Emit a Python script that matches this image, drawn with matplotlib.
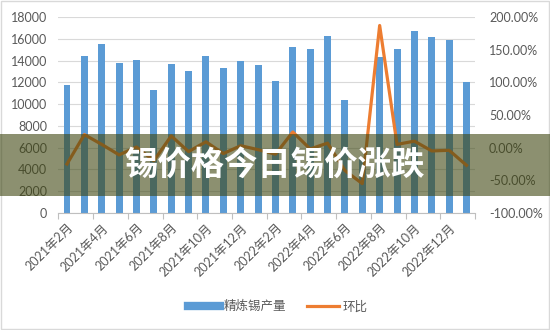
import matplotlib
matplotlib.use('Agg')
import matplotlib.pyplot as plt
from matplotlib.patches import Rectangle
from matplotlib.ticker import FuncFormatter, MultipleLocator

plt.rcParams['font.family'] = ['Lato', 'Noto Sans CJK SC', 'DejaVu Sans']

# months Feb 2021 .. Jan 2023
months = ['2021年2月', '2021年3月', '2021年4月', '2021年5月', '2021年6月', '2021年7月',
          '2021年8月', '2021年9月', '2021年10月', '2021年11月', '2021年12月', '2022年1月',
          '2022年2月', '2022年3月', '2022年4月', '2022年5月', '2022年6月', '2022年7月',
          '2022年8月', '2022年9月', '2022年10月', '2022年11月', '2022年12月', '2023年1月']
output = [11800, 14450, 15500, 13800, 14050, 11300, 13650, 13000, 14450, 13300, 14000, 13550,
          12150, 15200, 15100, 16300, 10350, 5000, 14300, 15100, 16700, 16200, 15900, 12000]
mom = [-25, 20, 5, -11, 1, -20, 18, -6, 9, -9, 3, -3,
       -10, 24, -2, 7, -35, -55, 187, 5, 10, -5, -4, -27]

blue = '#5b9bd5'
orange = '#ed7d31'
grey = '#595959'

fig = plt.figure(figsize=(5.5, 3.3), dpi=100)
ax = fig.add_axes([0.106, 0.3545, 0.758, 0.594])
x = list(range(len(months)))

ax.bar(x, output, width=0.4, color=blue, zorder=2)
ax.set_xlim(-0.5, len(months) - 0.5)
ax.set_ylim(0, 18000)
ax.yaxis.set_major_locator(MultipleLocator(2000))
ax.grid(axis='y', color='#d9d9d9', linewidth=0.8, zorder=0)
ax.set_axisbelow(True)
for s in ['top', 'right', 'left']:
    ax.spines[s].set_visible(False)
ax.spines['bottom'].set_color('#bfbfbf')
ax.tick_params(axis='y', length=0, labelsize=9, labelcolor=grey, pad=8)

# category ticks every 2 months between bars, labels under the bars
ax.set_xticks([i - 0.5 for i in range(0, len(months) + 1, 2)])
ax.set_xticklabels([])
ax.tick_params(axis='x', which='major', length=4, color='#bfbfbf', direction='out')
ax.set_xticks(x[::2], minor=True)
ax.set_xticklabels(months[::2], minor=True, rotation=45, ha='right',
                   rotation_mode='anchor', fontsize=9, color=grey)
ax.tick_params(axis='x', which='minor', length=0, pad=6)

ax2 = ax.twinx()
ax2.plot(x, mom, color=orange, linewidth=2.3, zorder=3)
ax2.set_ylim(-100, 200)
ax2.yaxis.set_major_locator(MultipleLocator(50))
ax2.yaxis.set_major_formatter(FuncFormatter(lambda v, p: '%.2f%%' % v))
for s in ax2.spines.values():
    s.set_visible(False)
ax2.tick_params(axis='y', length=0, labelsize=9, labelcolor=grey, pad=10)

from matplotlib.patches import Patch
from matplotlib.lines import Line2D
handles = [Line2D([0], [0], color=blue, linewidth=6),
           Line2D([0], [0], color=orange, linewidth=2.3)]
fig.legend(handles, ['精炼锡产量', '环比'], loc='center', bbox_to_anchor=(0.505, 0.072),
           ncol=2, frameon=False, fontsize=9, labelcolor=grey, handlelength=2.6,
           handletextpad=0.3, columnspacing=1.6)

# outer frame
fig.patches.append(Rectangle((0.002, 0.003), 0.996, 0.994, transform=fig.transFigure,
                             fill=False, edgecolor='#d9d9d9', linewidth=1))

# dark banner with title
fig.patches.append(Rectangle((0, 0.406), 1, 0.188, transform=fig.transFigure,
                             facecolor=(63/255, 70/255, 17/255), alpha=0.6,
                             edgecolor='none', zorder=10))
fig.text(0.5, 0.5, '锡价格今日锡价涨跌', ha='center', va='center', color='white',
         fontsize=24, fontweight='bold', family=['Noto Sans CJK SC'], zorder=11)

fig.savefig('out.png', dpi=100)
